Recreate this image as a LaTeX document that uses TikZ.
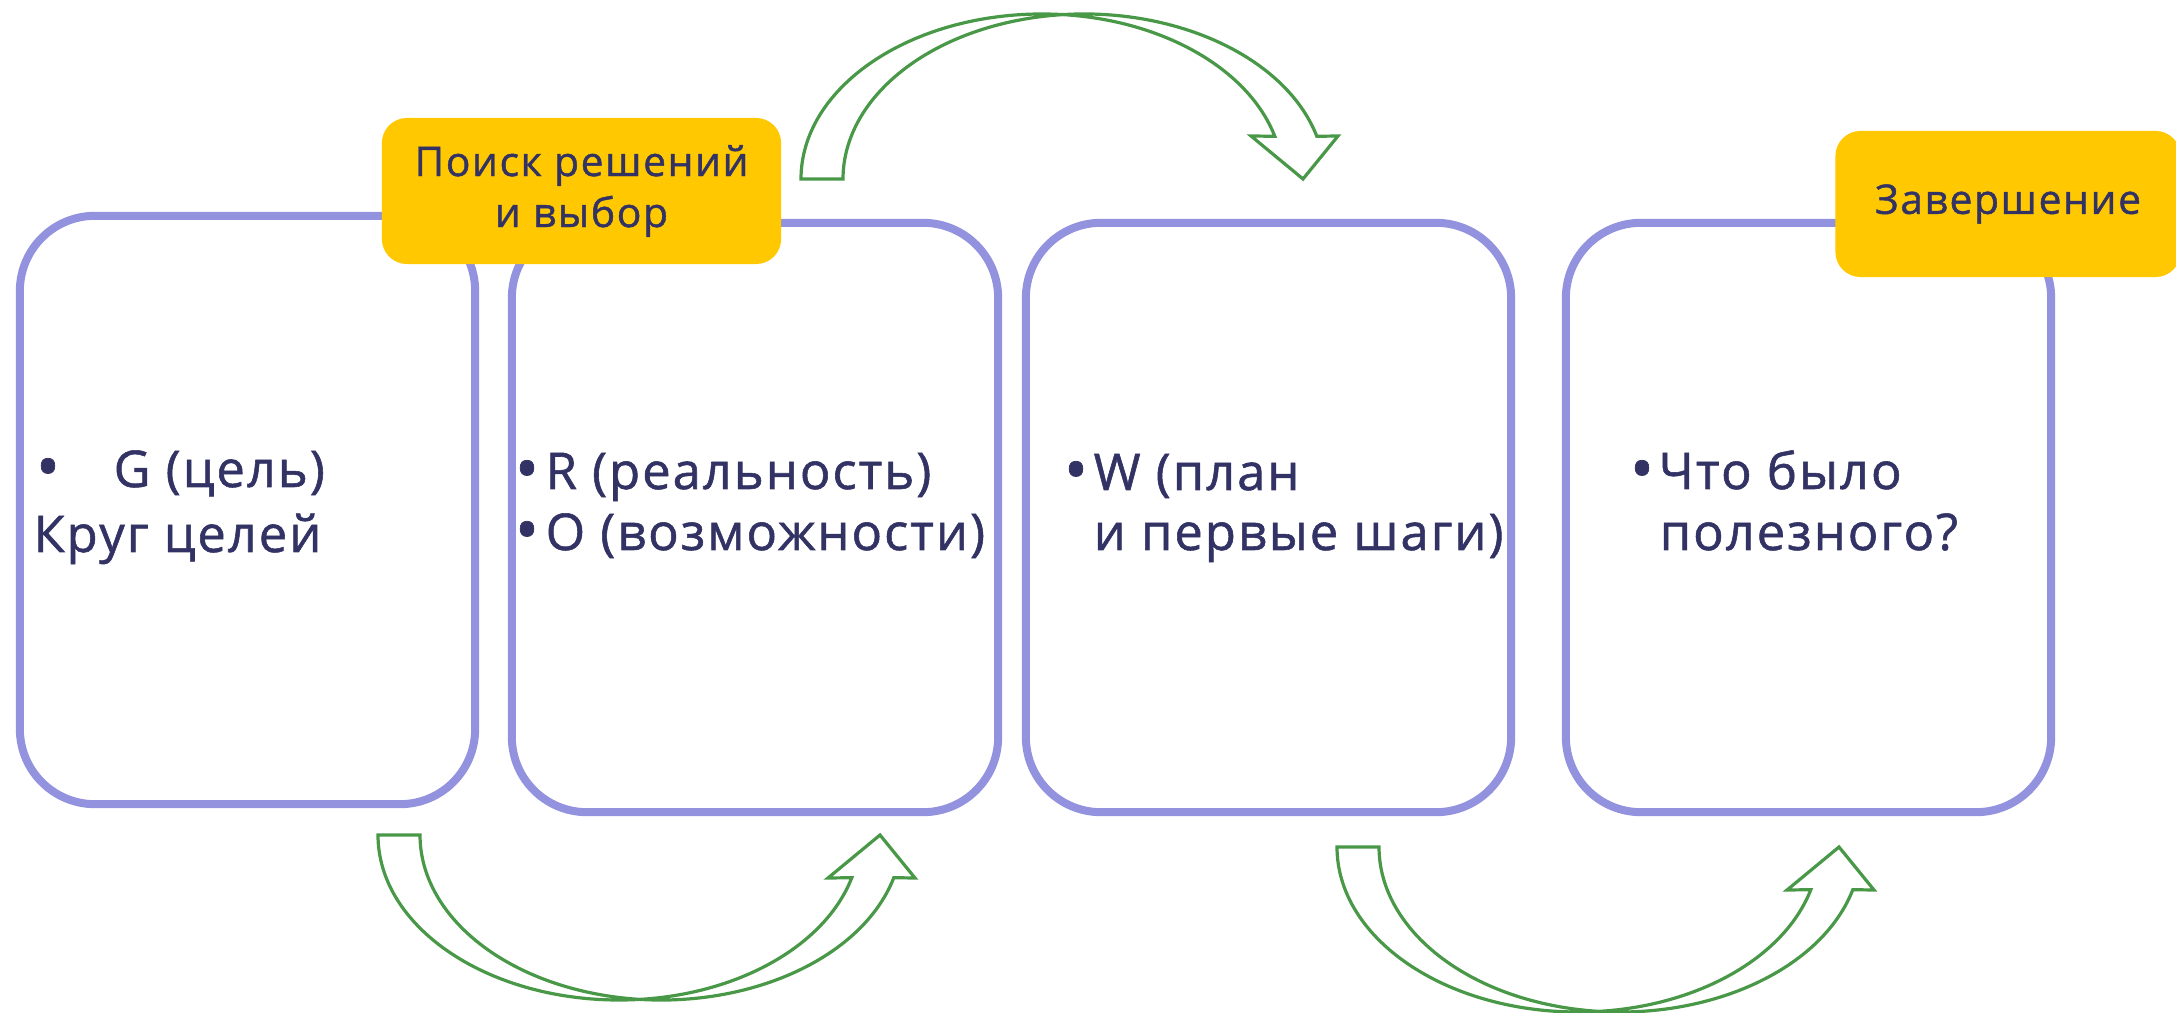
\documentclass[tikz,border=0pt]{standalone}
\usepackage{fontspec}
\setmainfont{Open Sans}[LetterSpace=4,FakeBold=1.1]
\definecolor{boxline}{RGB}{146,146,222}
\definecolor{tagfill}{RGB}{255,200,0}
\definecolor{ink}{RGB}{50,50,100}
\definecolor{arrowline}{RGB}{72,152,72}

\begin{document}
\begin{tikzpicture}[x=0.01cm,y=-0.01cm,
  stage/.style={draw=boxline,line width=0.08cm,rounded corners=0.75cm,minimum height=5.89cm},
  tag/.style={fill=tagfill,rounded corners=0.25cm,text=ink,font=\fontsize{11.6}{14.5}\selectfont,align=center,minimum height=1.46cm},
  txt/.style={text=ink,font=\fontsize{14.4}{18.5}\selectfont,inner sep=0pt,anchor=base west},
  dot/.style={txt,anchor=base,font=\fontsize{18}{18}\selectfont},
  bentarrow/.style={draw=arrowline,line width=0.032cm,line join=miter}]
  \useasboundingbox (0,0) rectangle (2176,1013);
  % stages
  \node[stage,minimum width=4.55cm,minimum height=5.88cm] (s1) at (247.5,510) {};
  \node[stage,minimum width=4.86cm] (s2) at (755,517.5) {};
  \node[stage,minimum width=4.85cm] (s3) at (1268.5,517.5) {};
  \node[stage,minimum width=4.85cm] (s4) at (1808.5,517.5) {};
  % tags
  \node[tag,minimum width=3.99cm] (t1) at (581.5,191) {Поиск решений\\и выбор};
  \node[tag,minimum width=3.45cm] (t2) at (2008,204) {Завершение};
  % texts
  \node[dot] (d1) at (48,489) {\textbullet};
  \node[txt] (g) at (113,487) {G (цель)};
  \node[txt] (g2) at (33,552) {Круг целей};
  \node[dot] (d2) at (527,491) {\textbullet};
  \node[txt] (r) at (545,489) {R (реальность)};
  \node[dot] (d3) at (527,552) {\textbullet};
  \node[txt] (o) at (545,550) {O (возможности)};
  \node[dot] (d4) at (1076,492) {\textbullet};
  \node[txt] (w) at (1093,490) {W (план};
  \node[txt] (w2) at (1093,550) {и первые шаги)};
  \node[dot] (d5) at (1642,491) {\textbullet};
  \node[txt] (q) at (1658,489) {Что было};
  \node[txt] (q2) at (1659,550) {полезного?};
  % curved block arrows
  \coordinate (a1) at (801,179);
  \coordinate (a2) at (378,835);
  \coordinate (a3) at (1337,847);
  \foreach \c/\f in {a1/-1,a2/1,a3/1}
    \draw[bentarrow,shift={(\c)},yscale=\f] (0,0) arc[start angle=180,end angle=15,x radius=241,y radius=165]
      -- (450,43) -- (502,0) -- (537,43) -- (515.8,42.7)
      arc[start angle=15,end angle=180,x radius=241,y radius=165] -- cycle;
\end{tikzpicture}
\end{document}
